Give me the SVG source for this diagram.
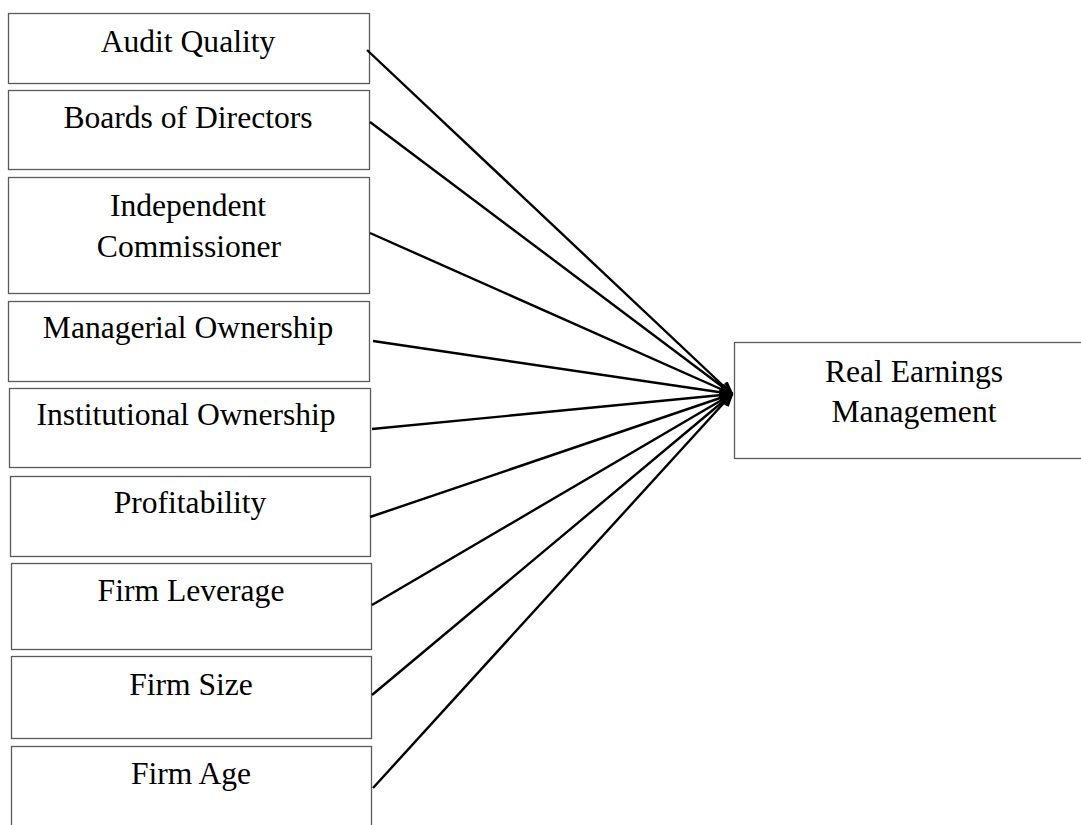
<svg xmlns="http://www.w3.org/2000/svg" width="1081" height="825" viewBox="0 0 1081 825">
  <style>
    .box { fill: #ffffff; stroke: #5a5a5a; stroke-width: 1.3; }
    .lbl { font-family: "Liberation Serif", "Times New Roman", serif; font-size: 31.6px; fill: #000000; text-anchor: middle; }
    .link { fill: none; stroke: #000000; stroke-width: 2.4; marker-end: url(#head); }
  </style>
  <defs>
    <marker id="head" markerUnits="userSpaceOnUse" viewBox="0 0 14 12" refX="13" refY="6" markerWidth="14" markerHeight="12" orient="auto">
      <path d="M1,1 L13,6 L1,11" fill="none" stroke="#000000" stroke-width="2.4"/>
    </marker>
  </defs>
  <rect x="0" y="0" width="1081" height="825" fill="#ffffff"/>

  <g id="audit-quality">
    <rect class="box" x="8.5" y="13.5" width="361" height="70"/>
    <text class="lbl" x="188" y="52">Audit Quality</text>
  </g>
  <g id="boards-of-directors">
    <rect class="box" x="8.5" y="90.5" width="361" height="79"/>
    <text class="lbl" x="188" y="128">Boards of Directors</text>
  </g>
  <g id="independent-commissioner">
    <rect class="box" x="8.5" y="177.5" width="361" height="116"/>
    <text class="lbl" x="188" y="216">Independent</text>
    <text class="lbl" x="189" y="257">Commissioner</text>
  </g>
  <g id="managerial-ownership">
    <rect class="box" x="8.5" y="301.5" width="361" height="80"/>
    <text class="lbl" x="188" y="338">Managerial Ownership</text>
  </g>
  <g id="institutional-ownership">
    <rect class="box" x="9.5" y="388.5" width="361" height="79"/>
    <text class="lbl" x="186" y="425">Institutional Ownership</text>
  </g>
  <g id="profitability">
    <rect class="box" x="10.5" y="476.5" width="360" height="80"/>
    <text class="lbl" x="190" y="513">Profitability</text>
  </g>
  <g id="firm-leverage">
    <rect class="box" x="11.5" y="563.5" width="360" height="86"/>
    <text class="lbl" x="191" y="601">Firm Leverage</text>
  </g>
  <g id="firm-size">
    <rect class="box" x="11.5" y="656.5" width="360" height="82"/>
    <text class="lbl" x="191" y="695">Firm Size</text>
  </g>
  <g id="firm-age">
    <rect class="box" x="11.5" y="746.5" width="360" height="100"/>
    <text class="lbl" x="191" y="784">Firm Age</text>
  </g>
  <g id="real-earnings-management">
    <rect class="box" x="734.5" y="342.5" width="360" height="116"/>
    <text class="lbl" x="914" y="382">Real Earnings</text>
    <text class="lbl" x="914" y="422">Management</text>
  </g>

  <g id="connectors">
    <line class="link" x1="367" y1="50" x2="732" y2="394"/>
    <line class="link" x1="370" y1="122" x2="732" y2="394"/>
    <line class="link" x1="370" y1="233" x2="732" y2="394"/>
    <line class="link" x1="373" y1="341" x2="732" y2="394"/>
    <line class="link" x1="372" y1="429" x2="732" y2="394"/>
    <line class="link" x1="370" y1="517" x2="732" y2="394"/>
    <line class="link" x1="372" y1="605" x2="732" y2="394"/>
    <line class="link" x1="372" y1="695" x2="732" y2="394"/>
    <line class="link" x1="373" y1="788" x2="732" y2="394"/>
  </g>
</svg>
